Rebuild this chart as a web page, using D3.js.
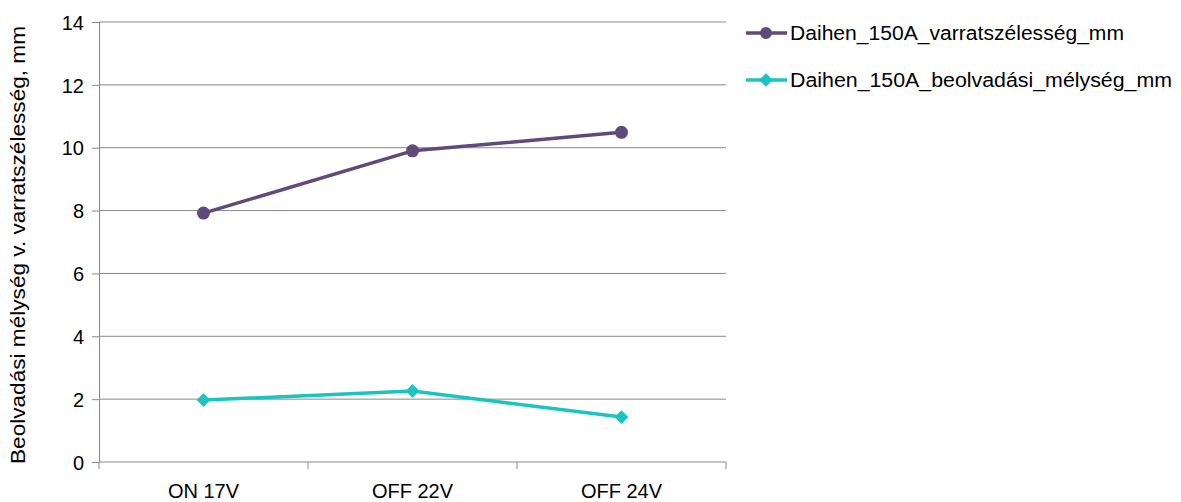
<!DOCTYPE html>
<html><head><meta charset="utf-8">
<script src="https://cdn.jsdelivr.net/npm/d3@7"></script>
<style>body{margin:0;background:#fff}svg text{font-family:"Liberation Sans",Arial,sans-serif;fill:#000}</style>
</head><body>
<svg id="c" width="1181" height="502"></svg>
<script>
const categories = ["ON 17V", "OFF 22V", "OFF 24V"];
const widthSeries = [7.92, 9.9, 10.49];
const depthSeries = [1.97, 2.26, 1.43];
const seriesNames = ["Daihen_150A_varratszélesség_mm", "Daihen_150A_beolvadási_mélység_mm"];
const yTicks = [0, 2, 4, 6, 8, 10, 12, 14];
const yTitle = "Beolvadási mélység v. varratszélesség, mm";

const svg = d3.select("#c");
const L = 99, R = 726, T = 22, B = 462;
const x = d3.scaleBand().domain(categories).range([L, R]);
const y = d3.scaleLinear().domain([0, 14]).range([B, T]);
const gridCol = "#898989";
const colors = ["#604A7B", "#1BC4C0"];

// gridlines
svg.append("g").selectAll("line").data(yTicks.filter(d => d > 0)).join("line")
  .attr("x1", L).attr("x2", R).attr("y1", d => y(d)).attr("y2", d => y(d))
  .attr("stroke", gridCol).attr("stroke-width", 1);

// y axis
const ya = svg.append("g").attr("transform", `translate(${L},0)`)
  .call(d3.axisLeft(y).tickValues(yTicks).tickSize(7).tickPadding(8).tickFormat(d3.format("d")));
ya.select(".domain").attr("stroke", gridCol);
ya.selectAll(".tick line").attr("stroke", gridCol);
ya.selectAll(".tick text").style("font-size", "20px").attr("dy", "0.36em");

// x axis
const xa = svg.append("g").attr("transform", `translate(0,${B})`)
  .call(d3.axisBottom(x).tickSize(0).tickPadding(22));
xa.select(".domain").attr("stroke", gridCol).attr("d", `M${L},0H${R}`);
xa.selectAll(".tick text").style("font-size", "20px");
const bounds = [L].concat(categories.map(c => x(c) + x.bandwidth()));
xa.selectAll(".bt").data(bounds).join("line").attr("class", "bt")
  .attr("x1", d => d).attr("x2", d => d).attr("y1", 0).attr("y2", 7).attr("stroke", gridCol);

const cx = c => x(c) + x.bandwidth() / 2;
const line = d3.line().x((d, i) => cx(categories[i])).y(d => y(d));

[widthSeries, depthSeries].forEach((s, k) => {
  svg.append("path").datum(s).attr("d", line).attr("fill", "none")
    .attr("stroke", colors[k]).attr("stroke-width", 3.5).attr("stroke-linejoin", "round");
});
svg.append("g").selectAll("circle").data(widthSeries).join("circle")
  .attr("cx", (d, i) => cx(categories[i])).attr("cy", d => y(d)).attr("r", 6.5).attr("fill", colors[0]);
const diamond = d3.symbol().type(d3.symbolDiamond2).size(120);
svg.append("g").selectAll("path").data(depthSeries).join("path")
  .attr("d", diamond).attr("transform", (d, i) => `translate(${cx(categories[i])},${y(d)})`)
  .attr("fill", colors[1]);

// legend
const legY = [33, 80];
seriesNames.forEach((n, k) => {
  const g = svg.append("g");
  g.append("line").attr("x1", 746).attr("x2", 787).attr("y1", legY[k]).attr("y2", legY[k])
    .attr("stroke", colors[k]).attr("stroke-width", 3.5);
  if (k === 0) g.append("circle").attr("cx", 766).attr("cy", legY[k]).attr("r", 6).attr("fill", colors[k]);
  else g.append("path").attr("d", diamond).attr("transform", `translate(766,${legY[k]})`).attr("fill", colors[k]);
  g.append("text").attr("x", 790).attr("y", legY[k]).attr("dy", "0.36em")
    .style("font-size", "20px")
    .attr("textLength", k === 0 ? 334 : 382).attr("lengthAdjust", "spacingAndGlyphs").text(n);
});

// y title
svg.append("text").attr("transform", "translate(25,245) rotate(-90)")
  .attr("text-anchor", "middle").style("font-size", "20px")
  .attr("textLength", 438).attr("lengthAdjust", "spacingAndGlyphs").text(yTitle);
</script>
</body></html>
